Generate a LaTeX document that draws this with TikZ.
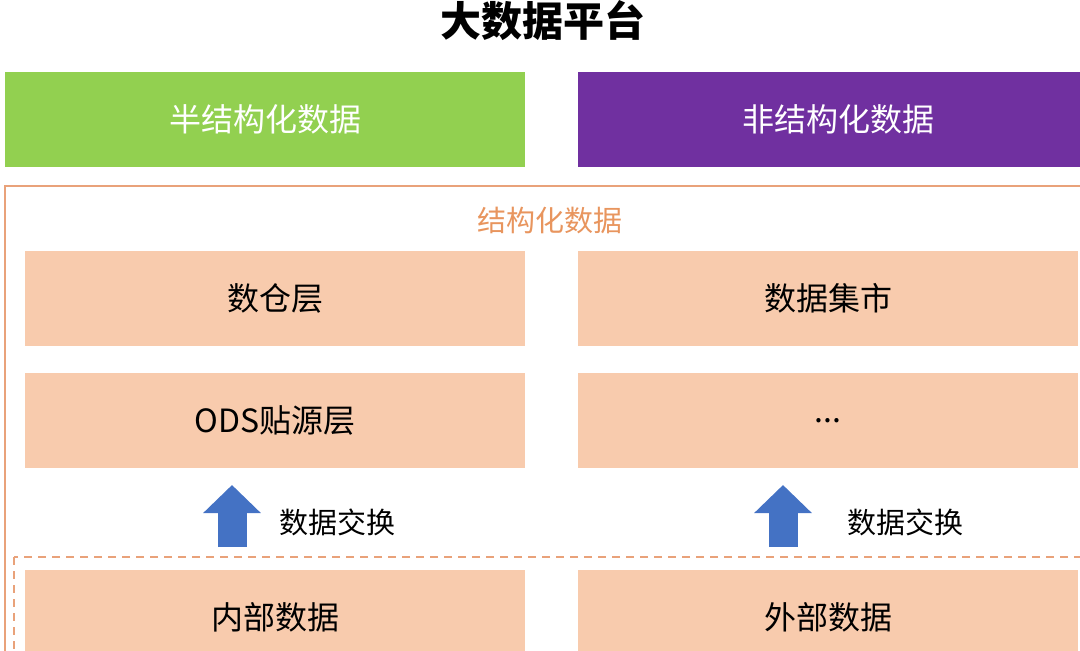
\documentclass[tikz,border=0pt]{standalone}
\usepackage{fontspec}
\setmainfont{Noto Sans CJK SC}
\usetikzlibrary{arrows.meta}
\definecolor{semigreen}{HTML}{92D050}
\definecolor{unpurple}{HTML}{7030A0}
\definecolor{peach}{HTML}{F8CBAD}
\definecolor{frameorange}{HTML}{E9A27A}
\definecolor{labelorange}{HTML}{E8955E}
\definecolor{flowblue}{HTML}{4472C4}
\begin{document}
\begin{tikzpicture}[x=0.5pt, y=-0.5pt,
    topbox/.style={rectangle, minimum width=260pt, minimum height=47.5pt, text=white, font=\fontsize{16}{18}\selectfont},
    layerbox/.style={rectangle, fill=peach, minimum width=250pt, minimum height=47.5pt, font=\fontsize{16}{18}\selectfont},
    exchange/.style={line width=14.5pt, draw=flowblue, -{Triangle[width=28pt, length=14pt]}},
    plain/.style={font=\fontsize{14.5}{16}\selectfont}]
  \useasboundingbox (0,0) rectangle (1080,650);
  \clip (0,0) rectangle (1080,650);

  \node[font=\fontsize{20.5}{24}\selectfont\bfseries] (title) at (543,21) {大数据平台};
  \node[topbox, fill=semigreen] (semi) at (265,119.5) {半结构化数据};
  \node[topbox, fill=unpurple] (nonstruct) at (838,119.5) {非结构化数据};

  \draw[frameorange, line width=1pt] (5,186) rectangle (1120,720);
  \node[plain, text=labelorange] (structlabel) at (550,220) {结构化数据};

  \node[layerbox] (dwlayer) at (275,298.5) {数仓层};
  \node[layerbox] (mart) at (828,298.5) {数据集市};
  \node[layerbox] (ods) at (275,420) {ODS贴源层};
  \node[layerbox] (etc) at (828,420) {\raisebox{-3pt}{...}};

  \draw[frameorange, line width=0.8pt, dash pattern=on 4pt off 3pt] (14,557) rectangle (1120,720);
  \node[layerbox] (inner) at (275,617.5) {内部数据};
  \node[layerbox] (outer) at (828,617.5) {外部数据};

  \coordinate (leftfoot) at (232,547);
  \coordinate (lefttip) at (232,485);
  \coordinate (rightfoot) at (783,547);
  \coordinate (righttip) at (783,485);
  \draw[exchange] (leftfoot) -- (lefttip);
  \draw[exchange] (rightfoot) -- (righttip);
  \node[plain] (xchgleft) at (337,522) {数据交换};
  \node[plain] (xchgright) at (905,522) {数据交换};
\end{tikzpicture}
\end{document}
